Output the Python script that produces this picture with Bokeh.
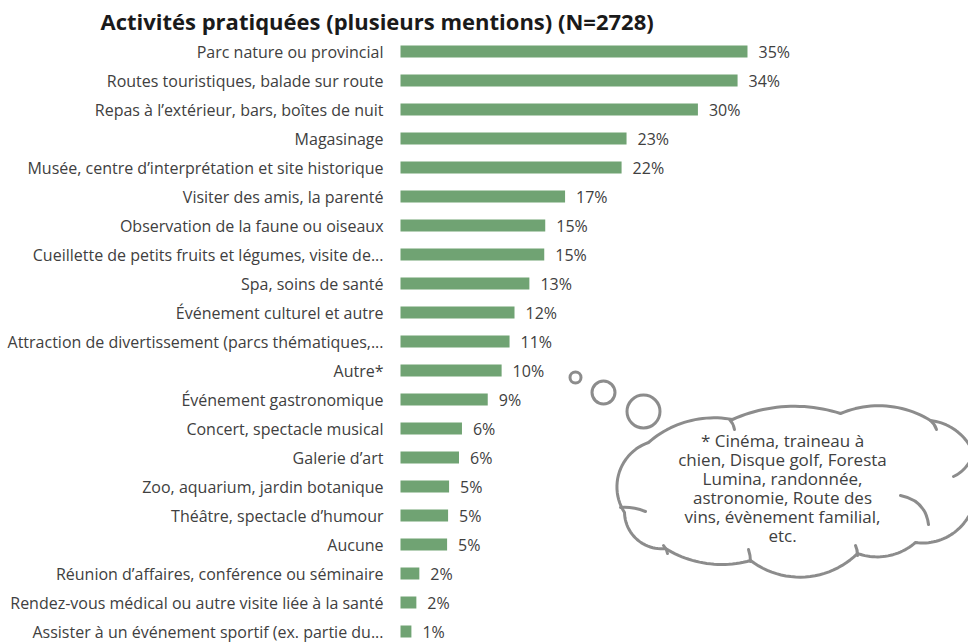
import math
from bokeh.plotting import figure
from bokeh.models import Range1d, ColumnDataSource
from bokeh.core.properties import value
from bokeh.embed import file_html
from bokeh.resources import INLINE

title_text = "Activités pratiquées (plusieurs mentions) (N=2728)"

categories = [
    "Parc nature ou provincial",
    "Routes touristiques, balade sur route",
    "Repas à l’extérieur, bars, boîtes de nuit",
    "Magasinage",
    "Musée, centre d’interprétation et site historique",
    "Visiter des amis, la parenté",
    "Observation de la faune ou oiseaux",
    "Cueillette de petits fruits et légumes, visite de...",
    "Spa, soins de santé",
    "Événement culturel et autre",
    "Attraction de divertissement (parcs thématiques,...",
    "Autre*",
    "Événement gastronomique",
    "Concert, spectacle musical",
    "Galerie d’art",
    "Zoo, aquarium, jardin botanique",
    "Théâtre, spectacle d’humour",
    "Aucune",
    "Réunion d’affaires, conférence ou séminaire",
    "Rendez-vous médical ou autre visite liée à la santé",
    "Assister à un événement sportif (ex. partie du...",
]

values = [35.0, 34.0, 30.0, 22.8, 22.3, 16.6, 14.6, 14.5, 13.0, 11.5, 11.0,
          10.2, 8.8, 6.2, 5.9, 4.9, 4.8, 4.7, 1.9, 1.6, 1.1]

pct_labels = ["35%", "34%", "30%", "23%", "22%", "17%", "15%", "15%", "13%", "12%", "11%",
              "10%", "9%", "6%", "6%", "5%", "5%", "5%", "2%", "2%", "1%"]

cloud_lines = [
    "* Cinéma, traineau à",
    "chien, Disque golf, Foresta",
    "Lumina, randonnée,",
    "astronomie, Route des",
    "vins, évènement familial,",
    "etc.",
]

# ---- layout helpers (reference pixel -> data coordinates) ----
W, H = 968, 643
PX_PER_PCT = 9.914
X0_PX = 400.0
ROW0_PX = 51.0
ROW_STEP = 29.0


def X(px):
    return (px - X0_PX) / PX_PER_PCT


def Y(py):
    return (py - ROW0_PX) / ROW_STEP


TEXT = "#404040"
BAR = "#70A373"
CLOUD = "#8C8C8C"
FONT = value("Open Sans")

p = figure(width=W, height=H, output_backend="svg", toolbar_location=None,
           x_range=Range1d(X(0), X(W)), y_range=Range1d(Y(H), Y(0)),
           x_axis_location=None, y_axis_location=None,
           min_border=0, min_border_left=0, min_border_right=0,
           min_border_top=0, min_border_bottom=0)
p.grid.visible = False
p.outline_line_color = None
p.background_fill_color = "white"
p.border_fill_color = "white"

n = len(categories)
src = ColumnDataSource(dict(
    y=list(range(n)),
    v=values,
    cat=categories,
    lab=pct_labels,
    lx=[v + 11 / PX_PER_PCT for v in values],
))

p.hbar(y="y", left=0, right="v", height=12 / ROW_STEP, source=src,
       fill_color=BAR, line_color=None)

p.text(x=X(383), y="y", text="cat", source=src, text_align="right",
       text_baseline="middle", text_font=FONT, text_font_size="16px", text_color=TEXT)

p.text(x="lx", y="y", text="lab", source=src, text_align="left",
       text_baseline="middle", text_font=FONT, text_font_size="16px", text_color=TEXT)

p.text(x=[X(100)], y=[Y(20)], text=[title_text], text_align="left",
       text_baseline="middle", text_font=FONT, text_font_style="bold",
       text_font_size="22px", text_color="#1A1A1A")

# ---- thought bubble (decoration, drawn in reference-pixel geometry) ----
bub_x = [575, 603, 643]
bub_y = [377, 392, 411]
bub_r = [7, 13, 18]
p.scatter(x=[X(v) for v in bub_x], y=[Y(v) for v in bub_y],
          size=[2 * (r - 1.5) for r in bub_r], marker="circle",
          fill_color="white", line_color=CLOUD, line_width=3)

CX, CY = 790.0, 490.0
cusps = [(648, 442), (732, 419), (840, 413), (930, 420), (976, 462),
         (968, 516), (915, 542), (857, 553), (750, 560), (665, 548), (624, 512)]
sags = [10, 10, 11, 10, 14, 9, 8, 20, 9, 12, 18]


def arc_pts(a, b, s, steps=24):
    ax, ay = a
    bx, by = b
    mx, my = (ax + bx) / 2, (ay + by) / 2
    dx, dy = bx - ax, by - ay
    c = math.hypot(dx, dy)
    nx, ny = -dy / c, dx / c
    if (mx + nx - CX) ** 2 + (my + ny - CY) ** 2 < (mx - nx - CX) ** 2 + (my - ny - CY) ** 2:
        nx, ny = -nx, -ny
    R = (c * c / 4 + s * s) / (2 * s)
    ox, oy = mx - nx * (R - s), my - ny * (R - s)
    a0 = math.atan2(ay - oy, ax - ox)
    a1 = math.atan2(by - oy, bx - ox)
    d = (a1 - a0 + math.pi) % (2 * math.pi) - math.pi
    return [(ox + R * math.cos(a0 + d * k / steps), oy + R * math.sin(a0 + d * k / steps))
            for k in range(steps)]


outline = []
for i in range(len(cusps)):
    outline += arc_pts(cusps[i], cusps[(i + 1) % len(cusps)], sags[i])
p.patch(x=[X(q[0]) for q in outline], y=[Y(q[1]) for q in outline],
        fill_color="white", line_color=CLOUD, line_width=3, line_join="round")

# small inner curls of the cloud outline
hk_x0 = [729, 620, 663, 748, 855, 900, 953, 930]
hk_y0 = [419, 507, 545, 549, 545, 495, 476, 420]
hk_x1 = [734, 645, 667, 750, 857, 928, 968, 936]
hk_y1 = [429, 511, 553, 561, 555, 524, 463, 429]
hk_cx = [733, 632, 666, 750, 857, 925, 962, 934]
hk_cy = [423, 506, 548, 555, 549, 500, 472, 423]
p.quadratic(x0=[X(v) for v in hk_x0], y0=[Y(v) for v in hk_y0],
            x1=[X(v) for v in hk_x1], y1=[Y(v) for v in hk_y1],
            cx=[X(v) for v in hk_cx], cy=[Y(v) for v in hk_cy],
            line_color=CLOUD, line_width=3, line_cap="round")

cy = [440, 458.5, 477.5, 496.5, 515.5, 535]
p.text(x=[X(782)] * len(cloud_lines), y=[Y(v) for v in cy], text=cloud_lines,
       text_align="center", text_baseline="middle", text_font=FONT,
       text_font_size="17px", text_color=TEXT)

open("out.html", "w").write(file_html(p, INLINE))
